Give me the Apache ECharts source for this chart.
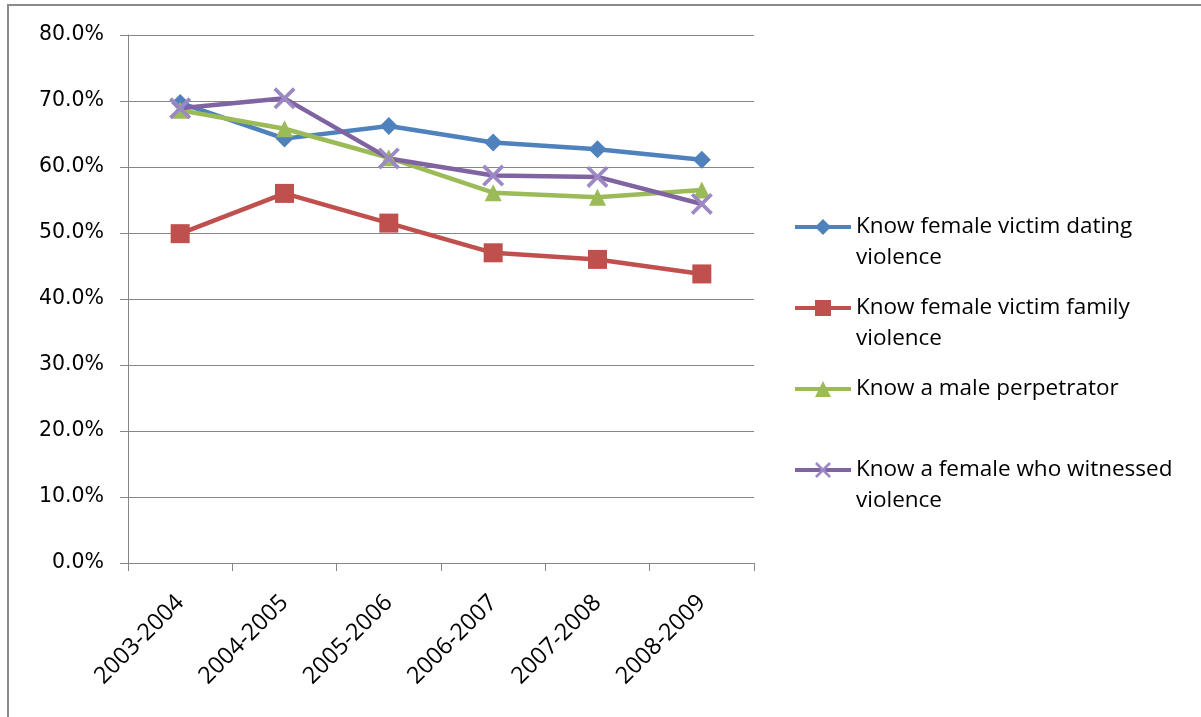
<!DOCTYPE html>
<html>
<head>
<meta charset="utf-8">
<script src="https://cdn.jsdelivr.net/npm/echarts@6/dist/echarts.min.js"></script>
<style>
  html, body { margin: 0; padding: 0; background: #fff; }
  #chart { width: 1201px; height: 717px; }
</style>
</head>
<body>
<div id="chart"></div>
<script>
var years = ['2003-2004', '2004-2005', '2005-2006', '2006-2007', '2007-2008', '2008-2009'];
var datingViolence = [69.7, 64.3, 66.2, 63.7, 62.7, 61.1];
var familyViolence = [49.9, 56.0, 51.5, 47.0, 46.0, 43.8];
var malePerpetrator = [68.6, 65.8, 61.4, 56.1, 55.4, 56.5];
var witnessedViolence = [68.9, 70.4, 61.3, 58.7, 58.5, 54.4];
var yTicks = [0, 10, 20, 30, 40, 50, 60, 70, 80];

var crossPath = 'path://M0,1.2L1.2,0L10,8.8L8.8,10Z M8.8,0L10,1.2L1.2,10L0,8.8Z';

function lineSeries(name, data, color, symbol, size, symColor) {
  return {
    name: name,
    type: 'line',
    data: data,
    symbol: symbol,
    symbolSize: size,
    showAllSymbol: true,
    lineStyle: { color: color, width: 4.5 },
    itemStyle: { color: symColor || color },
    emphasis: { disabled: true },
    z: 3
  };
}

var option = {
  backgroundColor: '#fff',
  animation: false,
  textStyle: { fontFamily: 'Open Sans' },
  grid: { left: 128, right: 447, top: 35, bottom: 154 },
  xAxis: {
    type: 'category',
    data: years,
    boundaryGap: true,
    axisLine: { lineStyle: { color: '#868686', width: 1 } },
    axisTick: { show: true, length: 8, lineStyle: { color: '#868686' } },
    axisLabel: { rotate: 45, fontSize: 23.5, color: '#000', fontFamily: 'Open Sans', margin: 36 }
  },
  yAxis: {
    type: 'value',
    min: yTicks[0],
    max: yTicks[yTicks.length - 1],
    interval: 10,
    axisLine: { show: true, lineStyle: { color: '#868686', width: 1 } },
    axisTick: { show: true, length: 8, lineStyle: { color: '#868686' } },
    splitLine: { lineStyle: { color: '#868686', width: 1 } },
    axisLabel: {
      fontSize: 20.5, color: '#000', fontFamily: 'DejaVu Sans', margin: 24,
      formatter: function (v) { return v.toFixed(1) + '%'; }
    }
  },
  legend: {
    orient: 'vertical',
    left: 793,
    top: 180.5,
    padding: 0,
    itemGap: -12,
    itemWidth: 56,
    itemHeight: 20,
    selectedMode: false,
    lineStyle: { width: 4 },
    textStyle: { fontSize: 22.5, color: '#000', fontFamily: 'Open Sans', lineHeight: 31 },
    formatter: function (name) {
      return name.indexOf('\n') >= 0 ? '\n' + name : '\n' + name + '\n';
    },
    data: [
      'Know female victim dating\nviolence',
      'Know female victim family\nviolence',
      'Know a male perpetrator',
      'Know a female who witnessed\nviolence'
    ]
  },
  graphic: [{
    type: 'rect',
    shape: { x: 8, y: 5, width: 1220, height: 740 },
    style: { fill: 'none', stroke: '#8a8a8a', lineWidth: 2 },
    silent: true
  }],
  series: [
    lineSeries('Know female victim dating\nviolence', datingViolence, '#4F81BD', 'diamond', 18),
    lineSeries('Know female victim family\nviolence', familyViolence, '#C0504D', 'rect', 19),
    lineSeries('Know a male perpetrator', malePerpetrator, '#9BBB59', 'triangle', 17),
    lineSeries('Know a female who witnessed\nviolence', witnessedViolence, '#8064A2', crossPath, 22, '#9C88C2')
  ]
};

var myChart = echarts.init(document.getElementById('chart'));
myChart.setOption(option);
</script>
</body>
</html>
